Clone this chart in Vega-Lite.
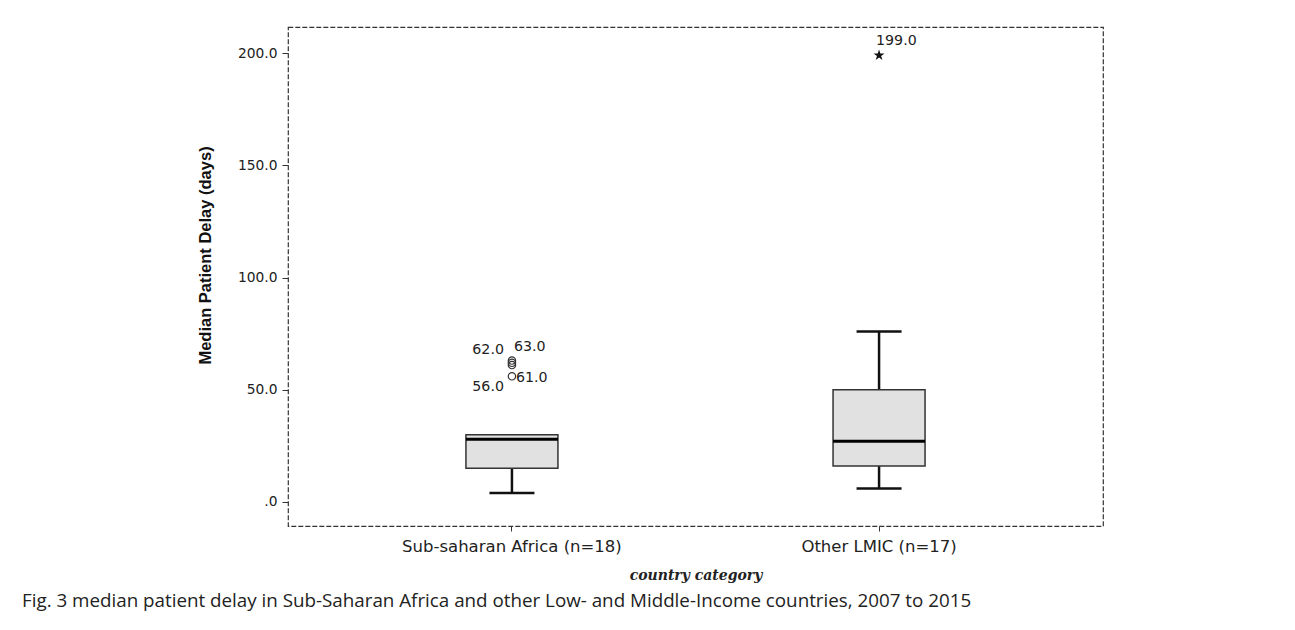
{
  "$schema": "https://vega.github.io/schema/vega-lite/v6.json",
  "autosize": "none",
  "padding": {"left": 288, "top": 27, "right": 192, "bottom": 104},
  "width": 815,
  "height": 499,
  "background": "white",
  "config": {
    "view": {"stroke": "#333", "strokeDash": [5, 2], "strokeWidth": 1.2},
    "font": "DejaVu Sans"
  },
  "title": {
    "text": "Fig. 3 median patient delay in Sub-Saharan Africa and other Low- and Middle-Income countries, 2007 to 2015",
    "orient": "bottom",
    "anchor": "start",
    "frame": "group",
    "dx": -266,
    "offset": 9,
    "font": "Open Sans",
    "fontSize": 18.8,
    "fontWeight": "normal",
    "color": "#222"
  },
  "datasets": {
    "boxes": [
      {"category": "Sub-saharan Africa (n=18)", "lower": 4, "q1": 15, "median": 28, "q3": 30, "upper": 30},
      {"category": "Other LMIC (n=17)", "lower": 6, "q1": 16, "median": 27, "q3": 50, "upper": 76}
    ],
    "outliers": [
      {"category": "Sub-saharan Africa (n=18)", "value": 56, "label": "56.0", "kind": "outlier"},
      {"category": "Sub-saharan Africa (n=18)", "value": 61, "label": "61.0", "kind": "outlier"},
      {"category": "Sub-saharan Africa (n=18)", "value": 62, "label": "62.0", "kind": "outlier"},
      {"category": "Sub-saharan Africa (n=18)", "value": 63, "label": "63.0", "kind": "outlier"},
      {"category": "Other LMIC (n=17)", "value": 199, "label": "199.0", "kind": "extreme"}
    ]
  },
  "encoding": {
    "x": {
      "field": "category",
      "type": "nominal",
      "sort": ["Sub-saharan Africa (n=18)", "Other LMIC (n=17)"],
      "scale": {"type": "band", "paddingInner": 0, "paddingOuter": 0.11},
      "axis": {
        "title": "country category",
        "titleFont": "DejaVu Serif",
        "titleFontStyle": "italic",
        "titleFontWeight": "bold",
        "titleFontSize": 14,
        "titleColor": "#222",
        "titlePadding": 14,
        "labelAngle": 0,
        "labelLimit": 500,
        "labelFont": "DejaVu Sans",
        "labelFontSize": 16.5,
        "labelColor": "#222",
        "labelPadding": 7,
        "tickSize": 5,
        "tickColor": "#333",
        "domain": false,
        "grid": false
      }
    }
  },
  "layer": [
    {
      "data": {"name": "boxes"},
      "mark": {"type": "rule", "color": "#111", "strokeWidth": 2.5},
      "encoding": {
        "y": {
          "field": "lower",
          "type": "quantitative",
          "scale": {"domain": [-10.7, 211.6], "nice": false, "zero": false},
          "axis": {
            "title": "Median Patient Delay (days)",
            "titleFont": "Liberation Sans",
            "titleFontSize": 16.5,
            "titleFontWeight": "bold",
            "titleColor": "#111",
            "titlePadding": 24,
            "titleY": 228,
            "values": [0, 50, 100, 150, 200],
            "labelExpr": "datum.value == 0 ? '.0' : format(datum.value, '.1f')",
            "labelFont": "DejaVu Sans",
            "labelFontSize": 13.8,
            "labelColor": "#222",
            "labelPadding": 5,
            "tickSize": 6,
            "tickColor": "#333",
            "domain": false,
            "grid": false
          }
        },
        "y2": {"field": "q1"}
      }
    },
    {
      "data": {"name": "boxes"},
      "mark": {"type": "rule", "color": "#111", "strokeWidth": 2.5},
      "encoding": {
        "y": {"field": "q3", "type": "quantitative"},
        "y2": {"field": "upper"}
      }
    },
    {
      "data": {"name": "boxes"},
      "mark": {"type": "bar", "size": 92, "fill": "#e1e1e1", "stroke": "#333", "strokeWidth": 1.5},
      "encoding": {
        "y": {"field": "q1", "type": "quantitative"},
        "y2": {"field": "q3"}
      }
    },
    {
      "data": {"name": "boxes"},
      "mark": {"type": "tick", "size": 45, "thickness": 2.5, "color": "#111", "opacity": 1, "orient": "horizontal"},
      "encoding": {"y": {"field": "lower", "type": "quantitative"}}
    },
    {
      "data": {"name": "boxes"},
      "transform": [{"filter": "datum.upper > datum.q3"}],
      "mark": {"type": "tick", "size": 45, "thickness": 2.5, "color": "#111", "opacity": 1, "orient": "horizontal"},
      "encoding": {"y": {"field": "upper", "type": "quantitative"}}
    },
    {
      "data": {"name": "boxes"},
      "mark": {"type": "tick", "size": 92, "thickness": 3, "color": "#000", "opacity": 1, "orient": "horizontal"},
      "encoding": {"y": {"field": "median", "type": "quantitative"}}
    },
    {
      "data": {"name": "outliers"},
      "transform": [{"filter": "datum.kind == 'outlier'"}],
      "mark": {"type": "point", "shape": "circle", "filled": false, "size": 55, "stroke": "#333", "strokeWidth": 1.2, "opacity": 1},
      "encoding": {"y": {"field": "value", "type": "quantitative"}}
    },
    {
      "data": {"name": "outliers"},
      "transform": [{"filter": "datum.kind == 'extreme'"}],
      "mark": {"type": "point", "shape": "M0,-1L0.2245,-0.309L0.951,-0.309L0.363,0.118L0.588,0.809L0,0.382L-0.588,0.809L-0.363,0.118L-0.951,-0.309L-0.2245,-0.309Z", "filled": true, "size": 130, "color": "#111", "opacity": 1},
      "encoding": {"y": {"field": "value", "type": "quantitative"}}
    },
    {
      "data": {"name": "outliers"},
      "transform": [{"filter": "datum.value == 62"}],
      "mark": {"type": "text", "align": "right", "baseline": "middle", "dx": -8, "dy": -13, "font": "DejaVu Sans", "fontSize": 14.2, "color": "#222"},
      "encoding": {"y": {"field": "value", "type": "quantitative"}, "text": {"field": "label"}}
    },
    {
      "data": {"name": "outliers"},
      "transform": [{"filter": "datum.value == 63"}],
      "mark": {"type": "text", "align": "left", "baseline": "middle", "dx": 2, "dy": -14, "font": "DejaVu Sans", "fontSize": 14.2, "color": "#222"},
      "encoding": {"y": {"field": "value", "type": "quantitative"}, "text": {"field": "label"}}
    },
    {
      "data": {"name": "outliers"},
      "transform": [{"filter": "datum.value == 61"}],
      "mark": {"type": "text", "align": "left", "baseline": "middle", "dx": 4, "dy": 13, "font": "DejaVu Sans", "fontSize": 14.2, "color": "#222"},
      "encoding": {"y": {"field": "value", "type": "quantitative"}, "text": {"field": "label"}}
    },
    {
      "data": {"name": "outliers"},
      "transform": [{"filter": "datum.value == 56"}],
      "mark": {"type": "text", "align": "right", "baseline": "middle", "dx": -8, "dy": 11, "font": "DejaVu Sans", "fontSize": 14.2, "color": "#222"},
      "encoding": {"y": {"field": "value", "type": "quantitative"}, "text": {"field": "label"}}
    },
    {
      "data": {"name": "outliers"},
      "transform": [{"filter": "datum.kind == 'extreme'"}],
      "mark": {"type": "text", "align": "left", "baseline": "middle", "dx": -3, "dy": -14, "font": "DejaVu Sans", "fontSize": 14.2, "color": "#222"},
      "encoding": {"y": {"field": "value", "type": "quantitative"}, "text": {"field": "label"}}
    }
  ]
}
